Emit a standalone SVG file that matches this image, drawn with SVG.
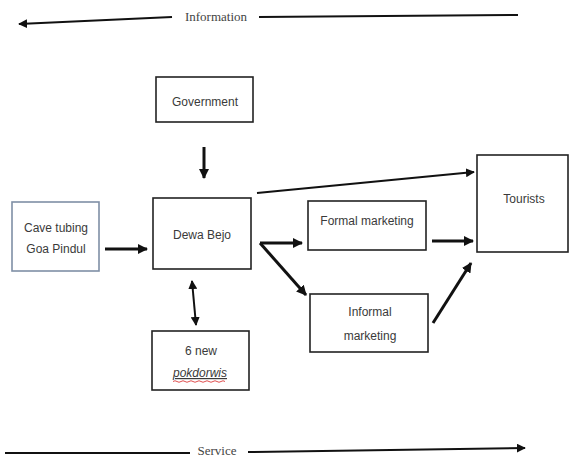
<svg xmlns="http://www.w3.org/2000/svg" width="570" height="458" viewBox="0 0 570 458">
<style>
.box{fill:#fff;stroke:#222;stroke-width:1.6}
.lbl{font-family:"Liberation Sans",Arial,sans-serif;font-size:12px;fill:#3a3a3a;text-anchor:middle}
.ser{font-family:"Liberation Serif","Times New Roman",serif;font-size:13px;fill:#444;text-anchor:middle}
.c{stroke:#111;fill:none}
.thin{stroke-width:2}
.thick{stroke-width:3}
</style>
<defs>
<marker id="ah" viewBox="0 0 10 10" refX="9" refY="5" markerWidth="3.4" markerHeight="3.4" orient="auto-start-reverse"><path d="M0,0L10,5L0,10z" fill="#111"/></marker>
<marker id="ahs" viewBox="0 0 10 10" refX="9" refY="5" markerWidth="4.5" markerHeight="4.5" orient="auto-start-reverse"><path d="M0,0L10,5L0,10z" fill="#111"/></marker>
</defs>
<rect width="570" height="458" fill="#fff"/>
<g id="connectors">
<line class="c thin" x1="172" y1="17" x2="19" y2="24" marker-end="url(#ahs)"/>
<line class="c thin" x1="259" y1="17" x2="518" y2="15"/>
<line class="c thin" x1="5" y1="453" x2="190" y2="453"/>
<line class="c thin" x1="248" y1="452" x2="525" y2="448" marker-end="url(#ahs)"/>
<line class="c thick" x1="204" y1="147" x2="204" y2="178" marker-end="url(#ah)"/>
<line class="c thick" x1="105" y1="249" x2="147" y2="249" marker-end="url(#ah)"/>
<line class="c thin" x1="192" y1="281" x2="196" y2="325" marker-start="url(#ahs)" marker-end="url(#ahs)"/>
<line class="c thin" x1="257" y1="193" x2="474" y2="172" marker-end="url(#ahs)"/>
<line class="c thick" x1="260" y1="243" x2="302" y2="243" marker-end="url(#ah)"/>
<line class="c thick" x1="260" y1="243" x2="306" y2="295" marker-end="url(#ah)"/>
<line class="c thick" x1="432" y1="241" x2="473" y2="241" marker-end="url(#ah)"/>
<line class="c thick" x1="433" y1="323" x2="471" y2="263" marker-end="url(#ah)"/>
</g>
<g id="info-label"><text class="ser" x="216" y="21">Information</text></g>
<g id="service-label"><text class="ser" x="217" y="455">Service</text></g>
<g id="government"><rect class="box" x="156" y="77" width="97" height="45"/><text class="lbl" x="205" y="106">Government</text></g>
<g id="cave"><rect x="12" y="202" width="87" height="69" fill="#fff" stroke="#7f8fa6" stroke-width="1.6"/><text class="lbl" x="56" y="232">Cave tubing</text><text class="lbl" x="56" y="253">Goa Pindul</text></g>
<g id="dewa"><rect class="box" x="153" y="198" width="98" height="71"/><text class="lbl" x="202" y="239">Dewa Bejo</text></g>
<g id="pokdarwis"><rect class="box" x="152" y="331" width="97" height="59"/><text class="lbl" x="201" y="355">6 new</text><text class="lbl" x="200" y="377" font-style="italic" text-decoration="underline">pokdorwis</text><path d="M173,381.5 q2,-1.5 4,0 t4,0 t4,0 t4,0 t4,0 t4,0 t4,0 t4,0 t4,0 t4,0 t4,0 t4,0 t4,0" fill="none" stroke="#e05050" stroke-width="1"/></g>
<g id="formal"><rect class="box" x="308" y="201" width="118" height="49"/><text class="lbl" x="367" y="225">Formal marketing</text></g>
<g id="informal"><rect class="box" x="310" y="294" width="118" height="58"/><text class="lbl" x="370" y="316">Informal</text><text class="lbl" x="370" y="340">marketing</text></g>
<g id="tourists"><rect class="box" x="477" y="155" width="91" height="97"/><text class="lbl" x="524" y="203">Tourists</text></g>
</svg>
